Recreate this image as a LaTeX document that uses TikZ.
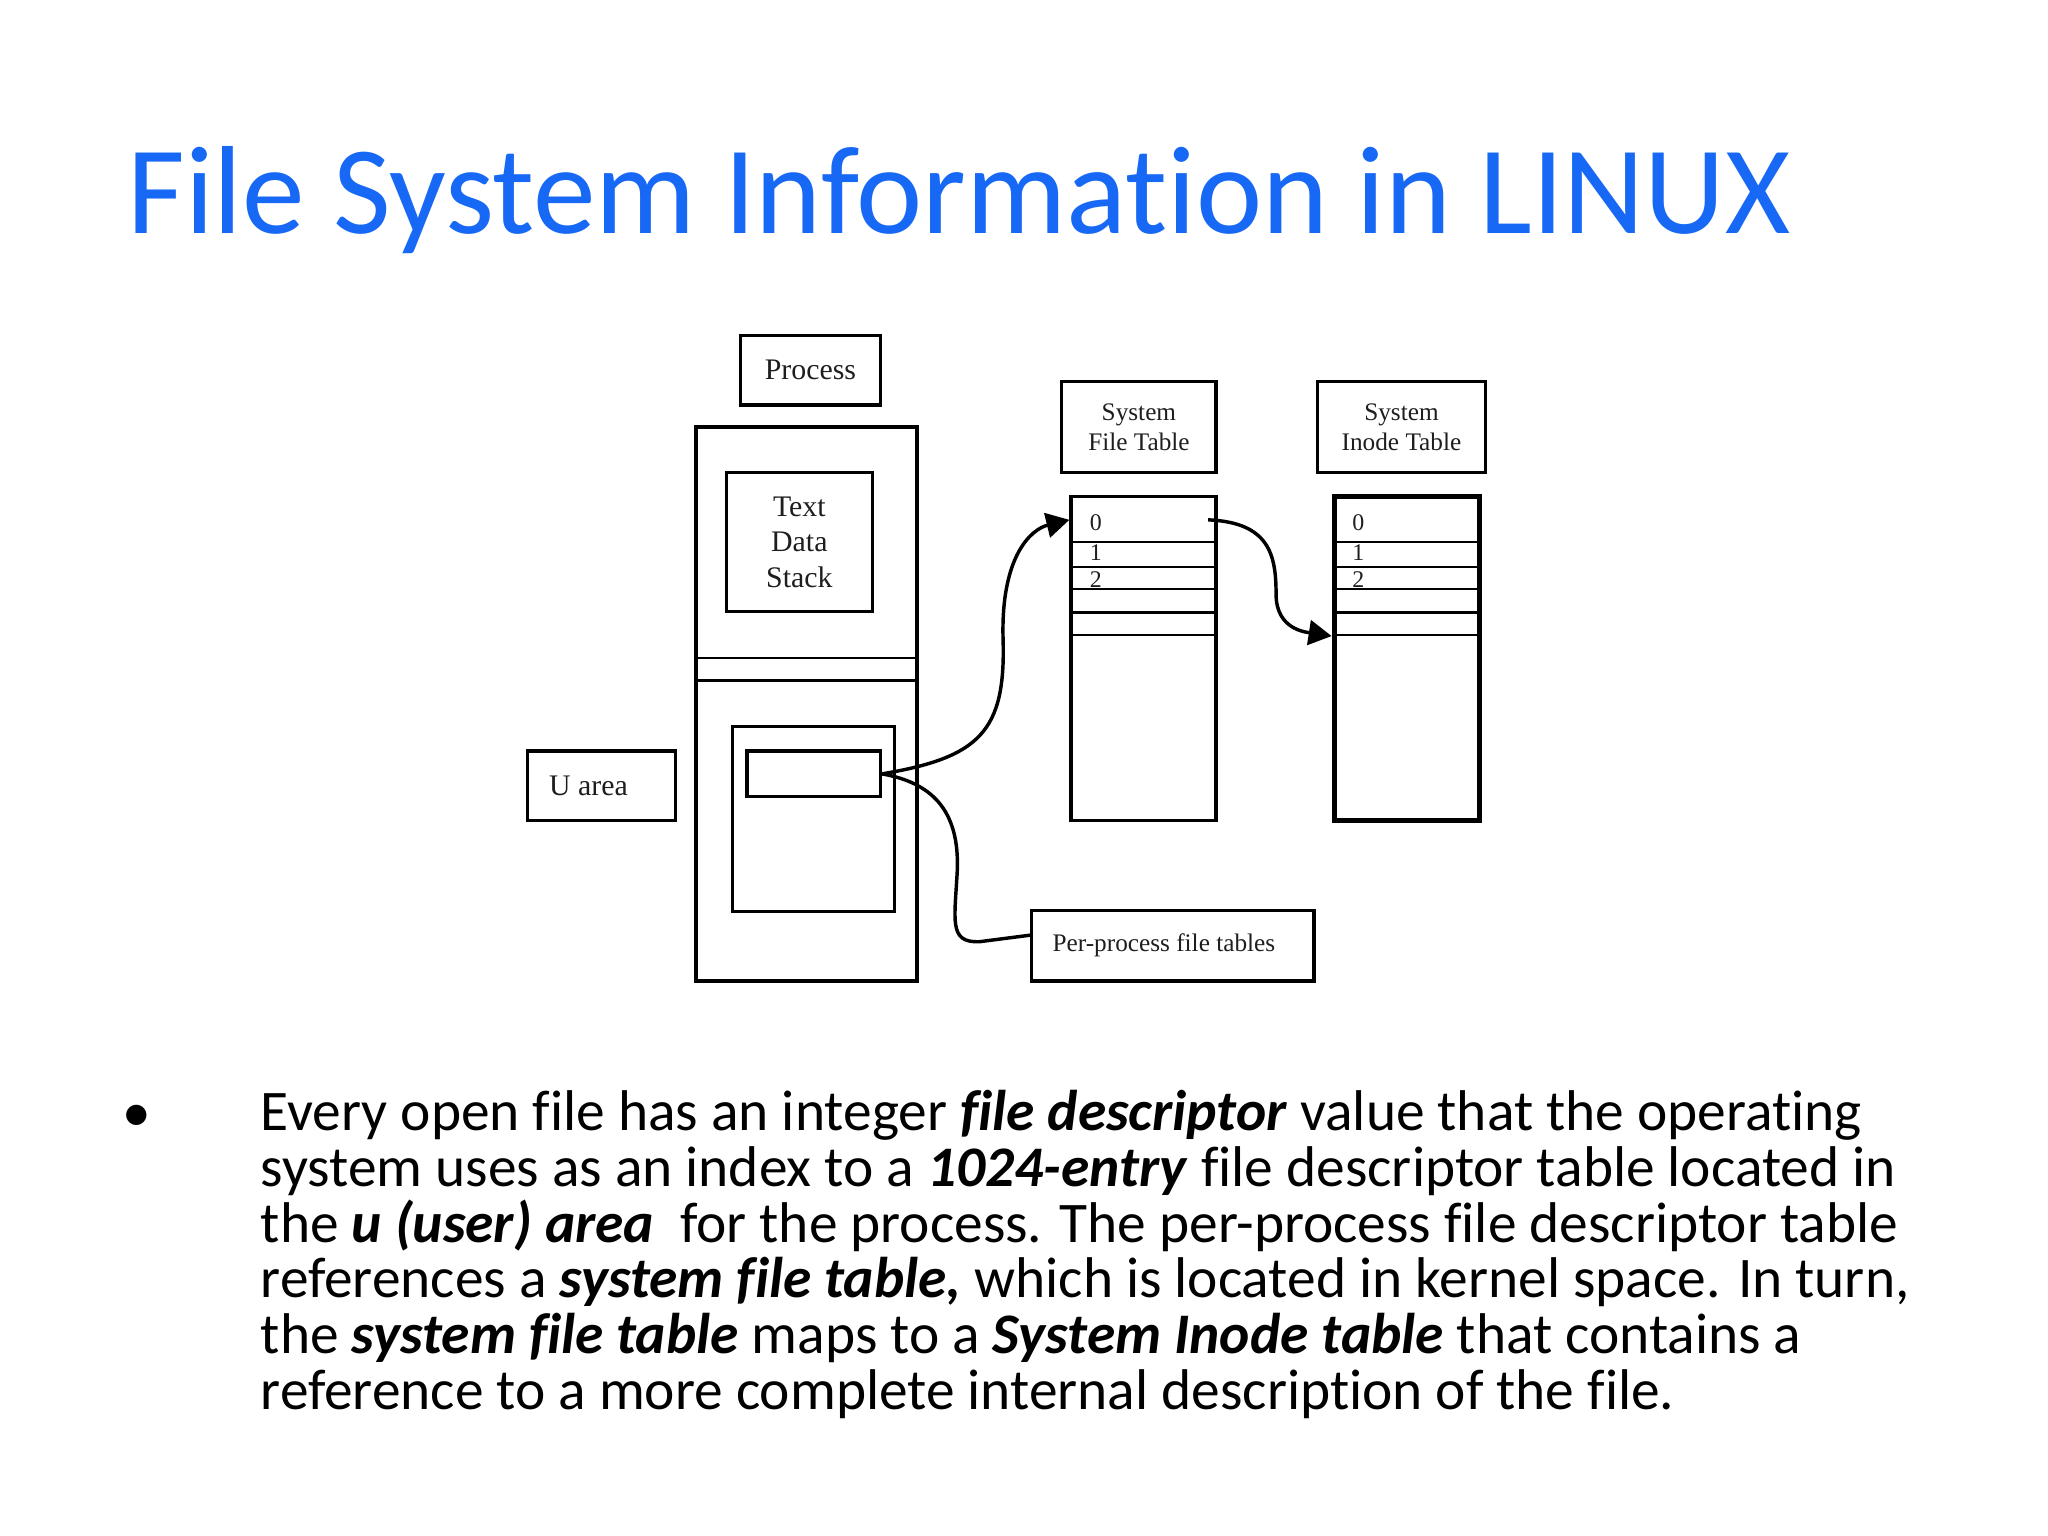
\documentclass[tikz,border=0pt]{standalone}
\usepackage{fontspec}
\setmainfont{Carlito}[Ligatures=CommonOff]
\newfontfamily\diagfont{Liberation Serif}
\usetikzlibrary{arrows.meta,positioning}
\definecolor{titleblue}{RGB}{22,104,245}
\definecolor{diagink}{RGB}{30,30,30}

\begin{document}
\begin{tikzpicture}[x=0.01cm,y=-0.01cm,
  box/.style={draw,line width=0.7pt,inner sep=0pt,align=center,text=diagink,
    font=\diagfont\fontsize{6.5}{7.7}\selectfont},
  smallbox/.style={box,font=\diagfont\fontsize{5.5}{6.5}\selectfont},
  tbl/.style={draw,line width=0.7pt,inner sep=0pt,minimum width=1.11cm,minimum height=2.48cm},
  row/.style={line width=0.5pt},
  idx/.style={inner sep=0pt,text=diagink,font=\diagfont\fontsize{5.2}{5.2}\selectfont},
  link/.style={line width=0.75pt},
  >={Triangle[length=5pt,width=5.4pt]}]
  \useasboundingbox (0,0) rectangle (1568,1176);

  % title
  \node[anchor=base west,inner sep=0pt,text=titleblue,font=\fontsize{27.3}{30}\selectfont]
    (title) at (97,179) {File System Information in LINUX};

  % process image
  \node[box,minimum width=1.07cm,minimum height=0.53cm] (process) at (620.5,283.5) {Process};
  \node[box,minimum width=1.69cm,minimum height=4.24cm] (image) at (617.5,539) {};
  \node[box,minimum width=1.12cm,minimum height=1.06cm] (tds) at (612,415) {Text\\Data\\Stack};
  \draw[row] (image.west |- 0,504) -- (image.east |- 0,504);
  \draw[row] (image.west |- 0,521) -- (image.east |- 0,521);
  \node[box,minimum width=1.24cm,minimum height=1.42cm] (uarea) at (623,627) {};
  \node[box,minimum width=1.02cm,minimum height=0.35cm] (slot) at (623,592.5) {};
  \node[box,minimum width=1.13cm,minimum height=0.53cm] (ulabel) at (460.5,601.5) {\makebox[0.8cm][l]{U area}};
  \node[smallbox,minimum width=2.16cm,minimum height=0.54cm] (perproc) at (898,724) {\makebox[1.84cm][l]{Per-process file tables}};

  % system tables
  \node[smallbox,minimum width=1.18cm,minimum height=0.70cm] (sftlabel) at (872,327) {System\\File Table};
  \node[smallbox,minimum width=1.28cm,minimum height=0.70cm] (sitlabel) at (1073,327) {System\\Inode Table};
  \node[tbl] (sft) at (875.5,504) {};
  \node[tbl,line width=1.1pt] (sit) at (1077,504) {};
  \foreach \ry in {415,434,451,469,486} {
    \draw[row] (sft.west |- 0,\ry) -- (sft.east |- 0,\ry);
    \draw[row] (sit.west |- 0,\ry) -- (sit.east |- 0,\ry);
  }
  \foreach \n/\ry in {0/400,1/423,2/444} {
    \node[idx] (sftidx\n) at (839,\ry) {\n};
    \node[idx] (sitidx\n) at (1040,\ry) {\n};
  }

  % links
  \coordinate (sftin) at (sft.west |- 0,398);
  \coordinate (sftout) at (925,398);
  \coordinate (sitin) at (sit.west |- 0,487);
  \draw[link,->] (slot.east) .. controls (750,580) and (770,560) .. (768,490)
    .. controls (766,425) and (790,405) .. (sftin);
  \draw[link,->] (sftout) .. controls (972,400) and (977,425) .. (977,455)
    .. controls (977,482) and (1000,484) .. (sitin);
  \draw[link] (slot.east) .. controls (718,600) and (734,625) .. (733,665)
    .. controls (731,705) and (726,722) .. (750,721) -- ([yshift=0.08cm]perproc.west);

  % bullet text
  \node[anchor=base,inner sep=0pt,font=\fontsize{12.5}{12.12}\selectfont] (bullet) at (105,866) {•};
  \node[anchor=base west,inner sep=0pt,align=left,font=\fontsize{12.5}{12.12}\selectfont] (body) at (199,1079)
    {Every open file has an integer \textbf{\textit{file descriptor}} value that the operating\\
     system uses as an index to a \textbf{\textit{1024-entry}} file descriptor table located in\\
     the \textbf{\textit{u (user) area}}\ \ for the process. The per-process file descriptor table\\
     references a \textbf{\textit{system file table,}} which is located in kernel space. In turn,\\
     the \textbf{\textit{system file table}} maps to a \textbf{\textit{System Inode table}} that contains a\\
     reference to a more complete internal description of the file.};
\end{tikzpicture}
\end{document}
